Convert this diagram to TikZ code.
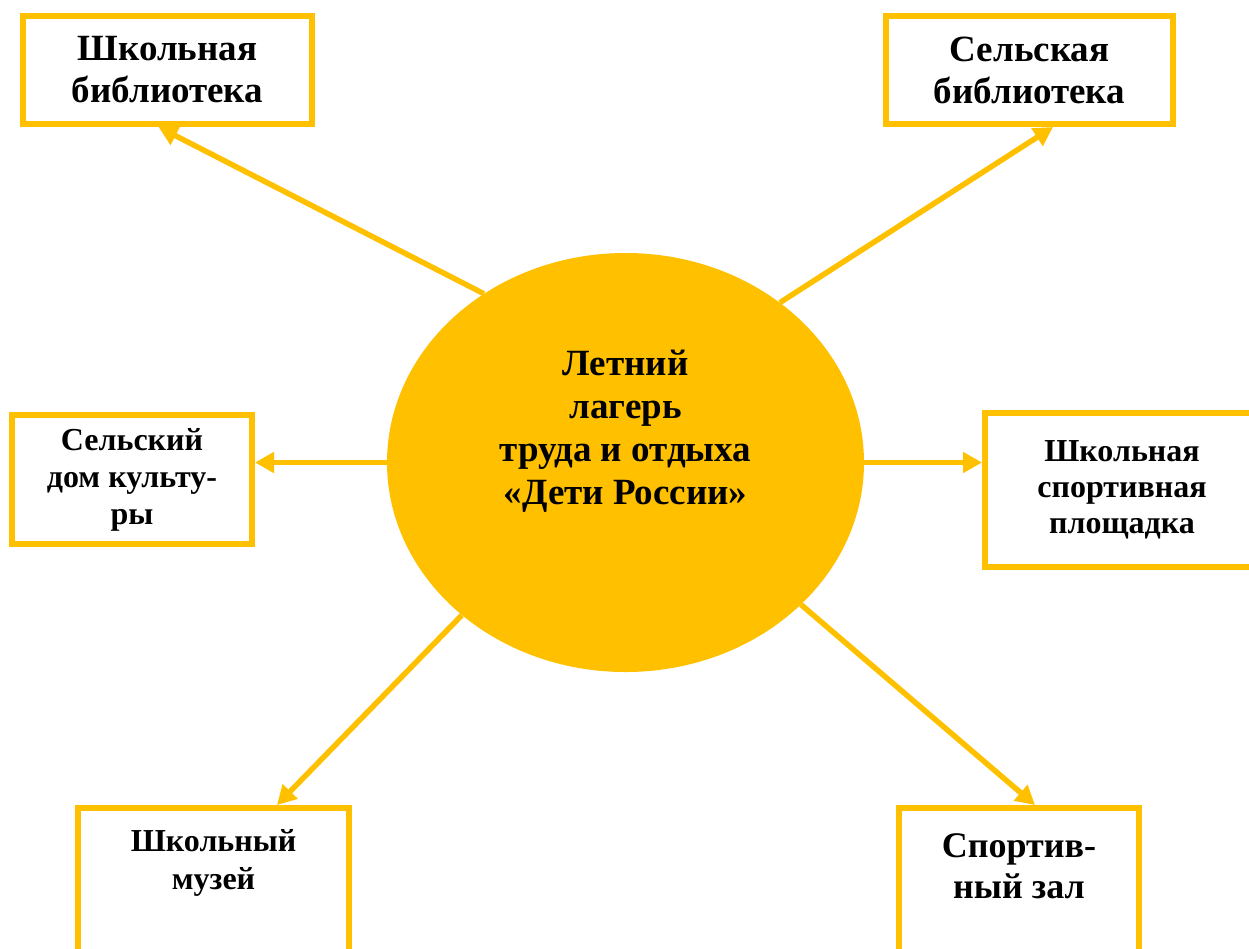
\documentclass[tikz,border=0pt]{standalone}
\usepackage{fontspec}
\setmainfont{Liberation Serif}
\usetikzlibrary{arrows.meta,shapes.geometric,calc}
\definecolor{gold}{HTML}{FFC000}
\begin{document}
\begin{tikzpicture}[x=1pt,y=-1pt,
  box/.style={draw=gold, line width=6pt, fill=white, inner sep=0pt, align=center,
              font=\bfseries\fontsize{31}{37}\selectfont},
  bigtext/.style={font=\bfseries\fontsize{37}{42}\selectfont},
  smalltext/.style={font=\bfseries\fontsize{32}{38}\selectfont, align=center, inner sep=0pt},
  midtext/.style={font=\bfseries\fontsize{36}{41}\selectfont, align=center, inner sep=0pt},
  link/.style={draw=gold, line width=5.5pt, -{Triangle[length=19pt,width=20pt]}}]
\useasboundingbox (0,0) rectangle (1249,948);
\clip (0,0) rectangle (1249,948);

% centre
\node[ellipse, fill=gold, minimum width=477pt, minimum height=419pt, inner sep=0pt] (c) at (625.5,462.5) {};
\node[align=center, inner sep=0pt, font=\bfseries\fontsize{37}{43}\selectfont] (ct) at (625.5,431) {Летний\\лагерь\\труда и отдыха\\«Дети России»};

% boxes
\node[box, bigtext, minimum width=289pt, minimum height=108pt] (b1) at (167.5,70) {Школьная\\библиотека};
\node[box, bigtext, minimum width=287pt, minimum height=108pt] (b2) at (1029.5,70) {Сельская\\библиотека};
\node[box, font=\bfseries\fontsize{32}{37}\selectfont, minimum width=240pt, minimum height=129pt] (b3) at (132,479.5) {Сельский\\дом культу-\\ры};
\node[box, font=\bfseries\fontsize{32}{36}\selectfont, minimum width=274pt, minimum height=154pt] (b4) at (1122,490) {Школьная\\спортивная\\площадка};
\node[box, minimum width=271pt, minimum height=192pt] (b5) at (213.5,904) {};
\node[smalltext, anchor=north] (t5) at ($(b5.north)+(0,24)$) {Школьный\\музей};
\node[box, minimum width=240pt, minimum height=192pt] (b6) at (1019,904) {};
\node[midtext, anchor=north] (t6) at ($(b6.north)+(0,28)$) {Спортив-\\ный зал};

% connectors
\draw[link] (c.130.8) -- ($(b1.south)+(-9,0)$);
\draw[link] (c.46.9) -- ($(b2.south)+(23.5,0)$);
\draw[link] (c.west) -- (c.west -| b3.east);
\draw[link] (c.east) -- (c.east -| b4.west);
\draw[link] (c.223.3) -- ($(b5.north)+(63.5,0)$);
\draw[link] (c.321.7) -- ($(b6.north)+(16,0)$);
\end{tikzpicture}
\end{document}
